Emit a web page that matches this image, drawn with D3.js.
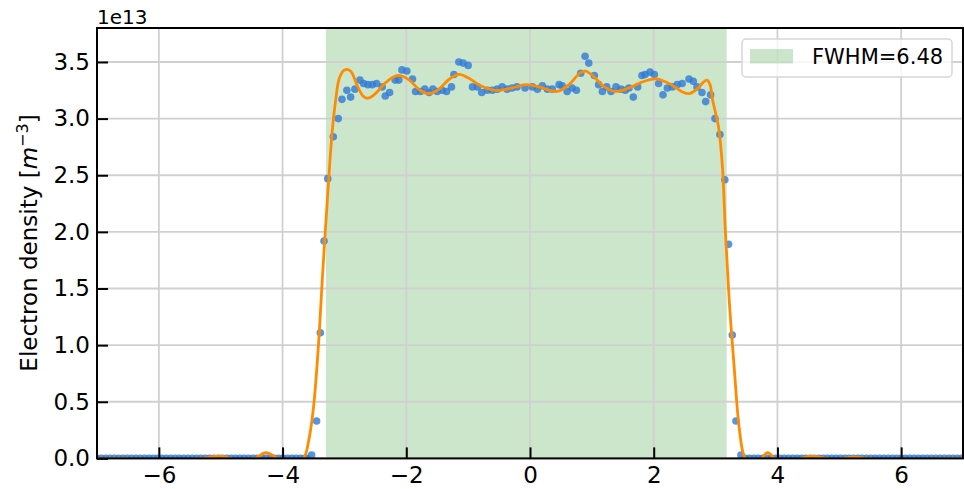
<!DOCTYPE html>
<html>
<head>
<meta charset="utf-8">
<script src="https://cdn.jsdelivr.net/npm/d3@7"></script>
<style>
  body { margin: 0; background: #fff; }
  text { font-family: 'DejaVu Sans', sans-serif; fill: #000; }
</style>
</head>
<body>
<div id="grafica"></div>
<script>
// Datos medidos (densidad en unidades de 1e13 m^-3)
const baseIzqX = [-7.00, -6.93, -6.86, -6.79, -6.72, -6.65, -6.58, -6.51, -6.44, -6.37,
  -6.30, -6.23, -6.16, -6.09, -6.02, -5.95, -5.88, -5.81, -5.74, -5.67, -5.60, -5.53,
  -5.46, -5.39, -5.32, -5.25, -5.18, -5.11, -5.04, -4.97, -4.90, -4.83, -4.76, -4.69,
  -4.62, -4.55, -4.48, -4.41, -4.34, -4.27, -4.20, -4.13, -4.06, -3.99, -3.92, -3.85,
  -3.78, -3.71, -3.64, -3.60]
const baseDerX = [3.48, 3.55, 3.62, 3.69, 3.76, 3.83, 3.90, 3.97, 4.04, 4.11, 4.18,
  4.25, 4.32, 4.39, 4.46, 4.53, 4.60, 4.67, 4.74, 4.81, 4.88, 4.95, 5.02, 5.09, 5.16,
  5.23, 5.30, 5.37, 5.44, 5.51, 5.58, 5.65, 5.72, 5.79, 5.86, 5.93, 6.00, 6.07, 6.14,
  6.21, 6.28, 6.35, 6.42, 6.49, 6.56, 6.63, 6.70, 6.77, 6.84, 6.91, 6.98]

const puntosX = [-3.53, -3.45, -3.39, -3.33, -3.27, -3.18, -3.10, -3.04, -2.96, -2.90,
  -2.83, -2.75, -2.69, -2.62, -2.55, -2.48, -2.39, -2.34, -2.27, -2.18, -2.12, -2.07,
  -1.99, -1.90, -1.85, -1.77, -1.70, -1.63, -1.57, -1.50, -1.42, -1.35, -1.27, -1.23,
  -1.15, -1.08, -1.00, -0.93, -0.85, -0.78, -0.69, -0.61, -0.53, -0.45, -0.37, -0.29,
  -0.21, -0.08, 0.04, 0.12, 0.20, 0.28, 0.36, 0.47, 0.52, 0.60, 0.68, 0.75, 0.82,
  0.89, 0.95, 1.04, 1.11, 1.17, 1.24, 1.31, 1.39, 1.47, 1.54, 1.60, 1.67, 1.74, 1.81,
  1.86, 1.94, 2.01, 2.08, 2.15, 2.22, 2.30, 2.38, 2.46, 2.57, 2.64, 2.70, 2.78, 2.84,
  2.92, 2.99, 3.07, 3.15, 3.21, 3.27, 3.33, 3.41]
const puntosY = [0.03, 0.33, 1.11, 1.92, 2.47, 2.84, 3.00, 3.17, 3.25, 3.19,
  3.26, 3.34, 3.31, 3.30, 3.30, 3.31, 3.28, 3.20, 3.23, 3.34, 3.34, 3.43,
  3.42, 3.35, 3.24, 3.24, 3.26, 3.23, 3.26, 3.24, 3.25, 3.24, 3.28, 3.39,
  3.50, 3.49, 3.47, 3.28, 3.28, 3.23, 3.25, 3.25, 3.26, 3.28, 3.26, 3.27,
  3.28, 3.27, 3.28, 3.26, 3.29, 3.26, 3.26, 3.30, 3.29, 3.24, 3.27, 3.25, 3.40,
  3.55, 3.49, 3.38, 3.30, 3.24, 3.28, 3.24, 3.28, 3.26, 3.25, 3.27, 3.19, 3.28, 3.38,
  3.39, 3.41, 3.39, 3.31, 3.21, 3.27, 3.28, 3.30, 3.31, 3.35, 3.33, 3.28, 3.23, 3.15,
  3.21, 3.00, 2.86, 2.46, 1.89, 1.09, 0.33, 0.03]

// Ajuste (curva naranja)
const ajusteX = [-7.0, -5.6, -5.3, -5.0, -4.7, -4.45, -4.27, -4.08, -3.85, -3.66, -3.58,
  -3.50, -3.42, -3.35, -3.28, -3.20, -3.14, -3.08, -3.00, -2.90, -2.80, -2.70, -2.62,
  -2.50, -2.35, -2.20, -2.10, -1.95, -1.80, -1.65, -1.50, -1.30, -1.15, -1.00, -0.80,
  -0.56, -0.30, -0.07, 0.15, 0.44, 0.65, 0.80, 0.90, 1.05, 1.20, 1.39, 1.60, 1.80,
  2.03, 2.25, 2.45, 2.57, 2.70, 2.80, 2.86, 2.91, 2.95, 3.00, 3.05, 3.11, 3.16, 3.22,
  3.30, 3.38, 3.46, 3.55, 3.70, 3.84, 4.0, 4.25, 4.55, 4.9, 5.23, 5.6, 7.0]
const ajusteY = [0.0, -0.01, 0.0, 0.02, -0.02, 0.0, 0.05, 0.0, -0.06, 0.0, 0.15,
  0.45, 1.0, 1.65, 2.25, 2.87, 3.17, 3.36, 3.43, 3.42, 3.30, 3.20, 3.18,
  3.22, 3.31, 3.37, 3.38, 3.34, 3.26, 3.22, 3.25, 3.35, 3.39, 3.36, 3.29,
  3.25, 3.27, 3.30, 3.28, 3.24, 3.31, 3.40, 3.42, 3.36, 3.28, 3.24, 3.27, 3.32,
  3.35, 3.31, 3.24, 3.22, 3.26, 3.32, 3.34, 3.30, 3.17, 3.05, 2.92, 2.58, 1.99, 1.40,
  0.81, 0.28, 0.02, -0.05, -0.03, 0.05, -0.02, -0.02, 0.02, -0.01, 0.01, -0.01, 0.0]

const fwhmIzq = -3.30
const fwhmDer = 3.18
const textoLeyenda = 'FWHM=6.48'
const ticksX = [-6, -4, -2, 0, 2, 4, 6]
const ticksY = [0.0, 0.5, 1.0, 1.5, 2.0, 2.5, 3.0, 3.5]

const anchoTotal = 964
const altoTotal = 489
const margin = { top: 28, left: 97, right: 1, bottom: 30.6 }
const ancho = anchoTotal - margin.left - margin.right
const alto = altoTotal - margin.top - margin.bottom

const svg = d3.select('#grafica')
  .append('svg')
  .attr('width', anchoTotal)
  .attr('height', altoTotal)

const g = svg.append('g')
  .attr('transform', `translate(${margin.left}, ${margin.top})`)

const x = d3.scaleLinear().domain([-7, 7]).range([0, ancho])
const y = d3.scaleLinear().domain([0, 3.8]).range([alto, 0])

g.append('clipPath').attr('id', 'recorte')
  .append('rect')
  .attr('width', ancho)
  .attr('height', alto)

// Franja FWHM
g.append('rect')
  .attr('x', x(fwhmIzq))
  .attr('y', 0)
  .attr('width', x(fwhmDer) - x(fwhmIzq))
  .attr('height', alto)
  .attr('fill', '#008000')
  .attr('fill-opacity', 0.2)

// Rejilla
g.append('g')
  .selectAll('line')
  .data(ticksX)
  .join('line')
  .attr('x1', d => x(d)).attr('x2', d => x(d))
  .attr('y1', 0).attr('y2', alto)
  .attr('stroke', '#d0d0d0')
  .attr('stroke-width', 1.8)
g.append('g')
  .selectAll('line')
  .data(ticksY)
  .join('line')
  .attr('x1', 0).attr('x2', ancho)
  .attr('y1', d => y(d)).attr('y2', d => y(d))
  .attr('stroke', '#d0d0d0')
  .attr('stroke-width', 1.8)

// Puntos
const puntos = baseIzqX.map(d => [d, 0])
  .concat(puntosX.map((d, i) => [d, puntosY[i]]))
  .concat(baseDerX.map(d => [d, 0]))

g.append('g')
  .attr('clip-path', 'url(#recorte)')
  .selectAll('circle')
  .data(puntos)
  .join('circle')
  .attr('cx', d => x(d[0]))
  .attr('cy', d => y(d[1]))
  .attr('r', 3.8)
  .attr('fill', '#2f7bd6')
  .attr('fill-opacity', 0.8)

// Curva ajustada
const generador = d3.line()
  .x(d => x(d[0]))
  .y(d => y(d[1]))
  .curve(d3.curveCatmullRom.alpha(0.5))

g.append('path')
  .attr('clip-path', 'url(#recorte)')
  .attr('d', generador(ajusteX.map((d, i) => [d, ajusteY[i]])))
  .attr('fill', 'none')
  .attr('stroke', '#ff8c00')
  .attr('stroke-width', 2.8)

// Ejes con ticks hacia dentro
const xAxisCall = d3.axisBottom(x)
  .tickValues(ticksX)
  .tickFormat(d3.format('d'))
  .tickSizeInner(-11)
  .tickSizeOuter(0)
  .tickPadding(8)
const yAxisCall = d3.axisLeft(y)
  .tickValues(ticksY)
  .tickFormat(d3.format('.1f'))
  .tickSizeInner(-11)
  .tickSizeOuter(0)
  .tickPadding(7)

const xAxis = g.append('g')
  .attr('transform', `translate(0, ${alto})`)
  .call(xAxisCall)
const yAxis = g.append('g').call(yAxisCall)

;[xAxis, yAxis].forEach(a => {
  a.select('.domain').remove()
  a.selectAll('.tick line').attr('stroke', '#000').attr('stroke-width', 2)
  a.selectAll('.tick text')
    .style('font-family', "'DejaVu Sans', sans-serif")
    .style('font-size', '23px')
    .attr('fill', '#000')
})

// Marco
g.append('rect')
  .attr('width', ancho)
  .attr('height', alto)
  .attr('fill', 'none')
  .attr('stroke', '#000')
  .attr('stroke-width', 2)

// Etiquetas
svg.append('text')
  .attr('x', margin.left)
  .attr('y', 24)
  .style('font-size', '20px')
  .text('1e13')

const etiquetaY = svg.append('text')
  .attr('transform', 'translate(37, 243) rotate(-90)')
  .attr('text-anchor', 'middle')
  .style('font-size', '23px')
etiquetaY.append('tspan').text('Electron density [')
etiquetaY.append('tspan').style('font-style', 'italic').text('m')
etiquetaY.append('tspan').attr('dy', -9).style('font-size', '16px').text('\u22123')
etiquetaY.append('tspan').attr('dy', 9).text(']')

// Leyenda
const leyenda = svg.append('g')
leyenda.append('rect')
  .attr('x', 742).attr('y', 39)
  .attr('width', 210).attr('height', 38)
  .attr('rx', 4)
  .attr('fill', '#fff')
  .attr('fill-opacity', 0.8)
  .attr('stroke', '#d6d6d6')
  .attr('stroke-width', 1.5)
leyenda.append('rect')
  .attr('x', 750).attr('y', 49)
  .attr('width', 43).attr('height', 14.5)
  .attr('fill', '#008000')
  .attr('fill-opacity', 0.2)
leyenda.append('text')
  .attr('x', 812).attr('y', 64)
  .style('font-size', '21px')
  .text(textoLeyenda)
</script>
</body>
</html>
